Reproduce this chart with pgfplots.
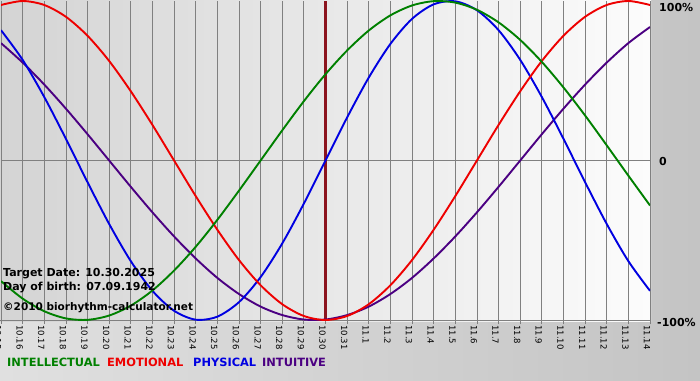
\documentclass[border=0pt]{standalone}
\usepackage{pgfplots}
\usepackage{pgfplotstable}
\pgfplotsset{compat=1.18}
\usepackage{fontspec}
\setmainfont{DejaVu Sans}
\definecolor{cgreen}{RGB}{0,128,0}
\definecolor{cred}{RGB}{238,0,0}
\definecolor{cblue}{RGB}{0,0,225}
\definecolor{cpurple}{RGB}{75,0,130}
\definecolor{cgrid}{RGB}{128,128,128}
\definecolor{cmark}{RGB}{140,20,30}
\definecolor{bgL}{RGB}{224,224,224}
\definecolor{bgR}{RGB}{196,196,196}
\definecolor{plL}{RGB}{212,212,212}
\definecolor{plR}{RGB}{252,252,252}

\pgfplotstableread{
d phys emo intel intu
0 81.7 97.5 -75.6 73.6
1 63.1 100 -86.6 61.4
2 39.8 97.5 -94.5 47.6
3 13.6 90.1 -99.0 32.5
4 -13.6 78.2 -99.9 16.5
5 -39.8 62.4 -97.2 0
6 -63.1 43.4 -91.0 -16.5
7 -81.7 22.3 -81.5 -32.5
8 -94.2 0 -69.0 -47.6
9 -99.8 -22.3 -54.1 -61.4
10 -97.9 -43.4 -37.2 -73.6
11 -88.8 -62.4 -18.9 -83.7
12 -73.1 -78.2 0 -91.6
13 -52.0 -90.1 18.9 -96.9
14 -27.0 -97.5 37.2 -99.7
15 0 -100 54.1 -99.7
16 27.0 -97.5 69.0 -96.9
17 52.0 -90.1 81.5 -91.6
18 73.1 -78.2 91.0 -83.7
19 88.8 -62.4 97.2 -73.6
20 97.9 -43.4 99.9 -61.4
21 99.8 -22.3 99.0 -47.6
22 94.2 0 94.5 -32.5
23 81.7 22.3 86.6 -16.5
24 63.1 43.4 75.6 0
25 39.8 62.4 61.8 16.5
26 13.6 78.2 45.8 32.5
27 -13.6 90.1 28.2 47.6
28 -39.8 97.5 9.5 61.4
29 -63.1 100 -9.5 73.6
30 -81.7 97.5 -28.2 83.7
}\bio

\begin{document}
\begin{tikzpicture}[x=1pt,y=1pt]
\path[use as bounding box] (0,0) rectangle (700,380);
\shade[left color=bgL, right color=bgR] (0,0) rectangle (700,380);
\shade[left color=plL, right color=plR] (0,59) rectangle (651,380);
\draw[cgrid, line width=0.8pt] (0,59.5) -- (651,59.5);
\begin{axis}[
  at={(1pt,60pt)}, anchor=south west,
  scale only axis, width=649pt, height=319pt,
  xmin=0, xmax=30, ymin=-100, ymax=100,
  clip=true,
  axis line style={draw=none},
  xtick={0,...,30},
  xticklabels={10.15,10.16,10.17,10.18,10.19,10.20,10.21,10.22,10.23,10.24,10.25,10.26,10.27,10.28,10.29,10.30,10.31,11.1,11.2,11.3,11.4,11.5,11.6,11.7,11.8,11.9,11.10,11.11,11.12,11.13,11.14},
  xtick pos=bottom,
  tick align=outside,
  major tick length=4pt,
  tick style={cgrid, line width=0.8pt},
  xticklabel style={rotate=-90, anchor=west, font=\fontsize{8.5}{10}\selectfont, inner sep=1pt, yshift=-3pt},
  ytick=\empty,
  xmajorgrids,
  major grid style={cgrid, line width=0.8pt},
]
\addplot[cgrid, line width=0.8pt] coordinates {(0,0) (30,0)};
\addplot[cmark, line width=2.2pt] coordinates {(15,-100) (15,100)};
\addplot[cpurple, line width=1.9pt, smooth] table[x=d, y=intu] {\bio};
\addplot[cblue, line width=1.9pt, smooth] table[x=d, y=phys] {\bio};
\addplot[cred, line width=1.9pt, smooth] table[x=d, y=emo] {\bio};
\addplot[cgreen, line width=1.9pt, smooth] table[x=d, y=intel] {\bio};
\end{axis}
\begin{scope}[every node/.style={inner sep=0pt, font=\bfseries\fontsize{11}{13}\selectfont}]
\node[anchor=base west] at (3,104) {Target Date: 10.30.2025};
\node[anchor=base west] at (3,90) {Day of birth: 07.09.1942};
\node[anchor=base west] at (3,70) {\fontsize{10.5}{12}\selectfont ©2010 biorhythm-calculator.net};
\node[anchor=base west] at (659,368) {100\%};
\node[anchor=base west] at (659,214) {0};
\node[anchor=base west] at (657,54) {-100\%};
\node[anchor=base west, text=cgreen, font=\bfseries\fontsize{11.4}{13}\selectfont] at (7,14) {INTELLECTUAL};
\node[anchor=base west, text=cred, font=\bfseries\fontsize{11.4}{13}\selectfont] at (107,14) {EMOTIONAL};
\node[anchor=base west, text=cblue, font=\bfseries\fontsize{11.4}{13}\selectfont] at (193,14) {PHYSICAL};
\node[anchor=base west, text=cpurple, font=\bfseries\fontsize{11.4}{13}\selectfont] at (262,14) {INTUITIVE};
\end{scope}
\end{tikzpicture}
\end{document}
